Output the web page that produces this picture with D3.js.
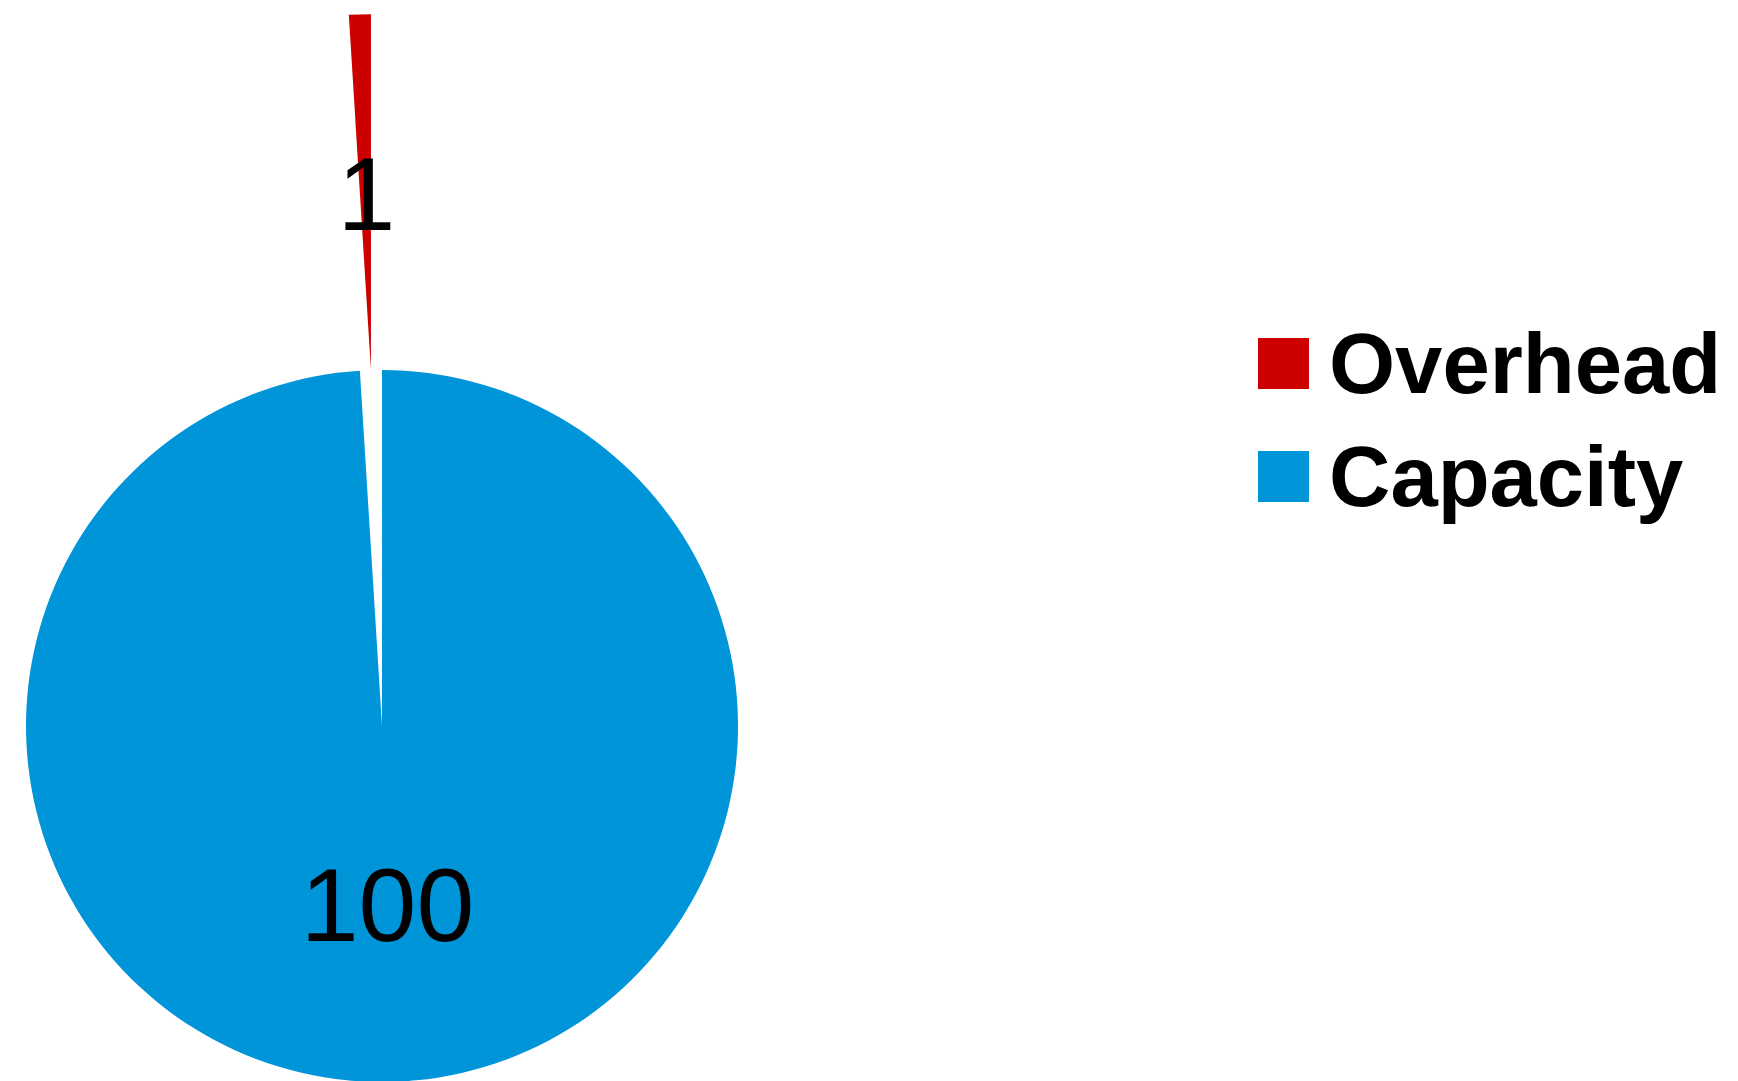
<!DOCTYPE html>
<html>
<head>
<meta charset="utf-8">
<script src="https://cdn.jsdelivr.net/npm/d3@7"></script>
<style>
  html, body { margin: 0; padding: 0; background: #ffffff; }
  svg { display: block; }
</style>
</head>
<body>
<svg id="chart" width="1738" height="1081"></svg>
<script>
const categories = ["Overhead", "Capacity"];
const values = [1, 100];
const colors = ["#cc0000", "#0094d9"];
const exploded = [true, false];

const W = 1738, H = 1081;
const cx = 382, cy = 726, R = 356;
const svg = d3.select("#chart");

const total = d3.sum(values);
const start = -2 * Math.PI * values[0] / total;
const pie = d3.pie().sort(null).value(d => d.value)
  .startAngle(start).endAngle(start + 2 * Math.PI);
const data = categories.map((c, i) => ({ name: c, value: values[i], color: colors[i], explode: exploded[i] }));
const arcs = pie(data);

const arc = d3.arc().innerRadius(0).outerRadius(R);
const labelArc = d3.arc().innerRadius(R * 0.5).outerRadius(R * 0.5);

const g = svg.append("g").attr("transform", `translate(${cx},${cy})`);

function offset(d) {
  if (!d.data.explode) return [0, 0];
  const mid = (d.startAngle + d.endAngle) / 2;
  return [Math.sin(mid) * R, -Math.cos(mid) * R];
}

const slices = g.selectAll("g.slice").data(arcs).enter().append("g")
  .attr("class", "slice")
  .attr("transform", d => { const o = offset(d); return `translate(${o[0]},${o[1]})`; });

slices.append("path")
  .attr("d", arc)
  .attr("fill", d => d.data.color);

const labelNudge = [1, 0];
const fsLabel = 104;
slices.append("text")
  .attr("x", (d, i) => labelArc.centroid(d)[0] + labelNudge[i])
  .attr("y", d => labelArc.centroid(d)[1] + fsLabel * 0.358)
  .attr("text-anchor", "middle")
  .attr("font-family", "'Liberation Sans', Arial, sans-serif")
  .attr("font-size", fsLabel)
  .attr("fill", "#000")
  .text(d => d.data.value);

// Legend
const legend = svg.append("g").attr("transform", "translate(1258,338)");
const item = legend.selectAll("g").data(data).enter().append("g")
  .attr("transform", (d, i) => `translate(0,${i * 113})`);
item.append("rect").attr("width", 51).attr("height", 51).attr("fill", d => d.color);
item.append("text")
  .attr("x", 71).attr("y", 55)
  .attr("font-family", "'Liberation Sans', Arial, sans-serif")
  .attr("font-weight", "bold")
  .attr("font-size", 85)
  .attr("fill", "#000")
  .text(d => d.name);
</script>
</body>
</html>
